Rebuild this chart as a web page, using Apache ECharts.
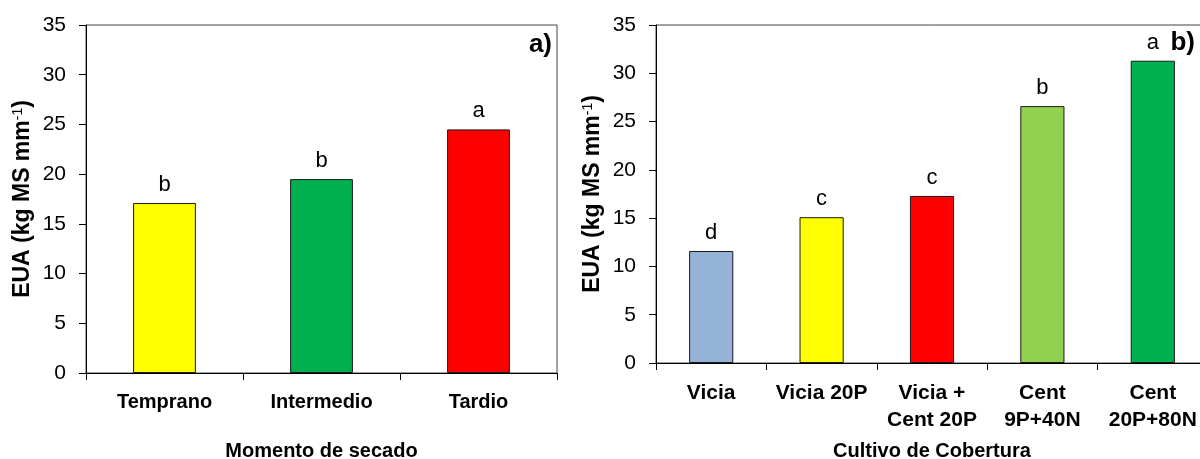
<!DOCTYPE html>
<html>
<head>
<meta charset="utf-8">
<script src="https://cdn.jsdelivr.net/npm/echarts@6/dist/echarts.min.js"></script>
<style>
html,body{margin:0;padding:0;background:#fff;}
#chart{width:1200px;height:459px;}
</style>
</head>
<body>
<div id="chart"></div>
<script>
// Panel a) Momento de secado
const categoriesA = ['Temprano', 'Intermedio', 'Tardio'];
const valuesA = [17.1, 19.5, 24.5];
const lettersA = ['b', 'b', 'a'];
const colorsA = ['#FFFF00', '#00B050', '#FF0000'];

// Panel b) Cultivo de Cobertura
const categoriesB = ['Vicia', 'Vicia 20P', 'Vicia +\nCent 20P', 'Cent\n9P+40N', 'Cent\n20P+80N'];
const valuesB = [11.6, 15.1, 17.3, 26.6, 31.3];
const lettersB = ['d', 'c', 'c', 'b', 'a'];
const colorsB = ['#95B3D7', '#FFFF00', '#FF0000', '#92D050', '#00B050'];

const yTicks = { min: 0, max: 35, interval: 5 };

const FONT = '"Liberation Sans", Arial, sans-serif';
const chart = echarts.init(document.getElementById('chart'), null, { renderer: 'canvas' });

function yAxisDef(gridIndex) {
  return {
    type: 'value', gridIndex: gridIndex,
    min: yTicks.min, max: yTicks.max, interval: yTicks.interval,
    name: '{b|EUA (kg MS mm}{s|-1}{b|)}',
    nameLocation: 'middle', nameRotate: 90, nameGap: 51,
    nameTextStyle: {
      rich: {
        b: { fontFamily: FONT, fontWeight: 'bold', fontSize: 23, color: '#000', lineHeight: 24 },
        s: { fontFamily: FONT, fontWeight: 'normal', fontSize: 14, color: '#000', lineHeight: 24, verticalAlign: 'top' }
      }
    },
    axisLine: { show: true, lineStyle: { color: '#000', width: 1 } },
    axisTick: { show: true, inside: false, length: 7, lineStyle: { color: '#000' } },
    axisLabel: { fontFamily: FONT, fontSize: 21, color: '#000', margin: 20 },
    splitLine: { show: false }
  };
}

function xAxisDef(gridIndex, cats, name, nameGap, margin, labelSize) {
  return {
    type: 'category', gridIndex: gridIndex, data: cats,
    name: name, nameLocation: 'middle', nameGap: nameGap,
    nameTextStyle: { fontFamily: FONT, fontWeight: 'bold', fontSize: 20, color: '#000' },
    axisLine: { show: true, lineStyle: { color: '#000', width: 1 } },
    axisTick: { show: true, inside: false, length: 7, alignWithLabel: false, lineStyle: { color: '#000' } },
    axisLabel: { interval: 0, fontFamily: FONT, fontWeight: 'bold', fontSize: labelSize, color: '#000', margin: margin, lineHeight: 27 },
    splitLine: { show: false }
  };
}

function barSeries(idx, values, colors, letters) {
  return {
    type: 'bar', xAxisIndex: idx, yAxisIndex: idx,
    barWidth: '40%',
    data: values.map((v, i) => ({ value: v, itemStyle: { color: colors[i] } })),
    itemStyle: { borderColor: '#1a1a1a', borderWidth: 1 },
    label: {
      show: true, position: 'top', distance: 7,
      fontFamily: FONT, fontSize: 22, color: '#000',
      formatter: p => letters[p.dataIndex]
    },
    emphasis: { disabled: true },
    animation: false
  };
}

chart.setOption({
  animation: false,
  backgroundColor: '#fff',
  grid: [
    { left: 86, top: 25, width: 471, height: 348, show: true, borderColor: '#444', borderWidth: 1, backgroundColor: 'transparent', containLabel: false, outerBoundsMode: 'none' },
    { left: 656, top: 25, width: 552, height: 338, show: true, borderColor: '#444', borderWidth: 1, backgroundColor: 'transparent', containLabel: false, outerBoundsMode: 'none' }
  ],
  title: [
    { text: 'a)', right: 648, top: 32, padding: 0, textStyle: { fontFamily: FONT, fontWeight: 'bold', fontSize: 26, color: '#000' } },
    { text: 'b)', right: 5, top: 30, padding: 0, textStyle: { fontFamily: FONT, fontWeight: 'bold', fontSize: 26, color: '#000' } }
  ],
  xAxis: [
    xAxisDef(0, categoriesA, 'Momento de secado', 68, 16, 20),
    xAxisDef(1, categoriesB, 'Cultivo de Cobertura', 78, 17, 21)
  ],
  yAxis: [yAxisDef(0), yAxisDef(1)],
  series: [
    barSeries(0, valuesA, colorsA, lettersA),
    barSeries(1, valuesB, colorsB, lettersB)
  ]
});
</script>
</body>
</html>
